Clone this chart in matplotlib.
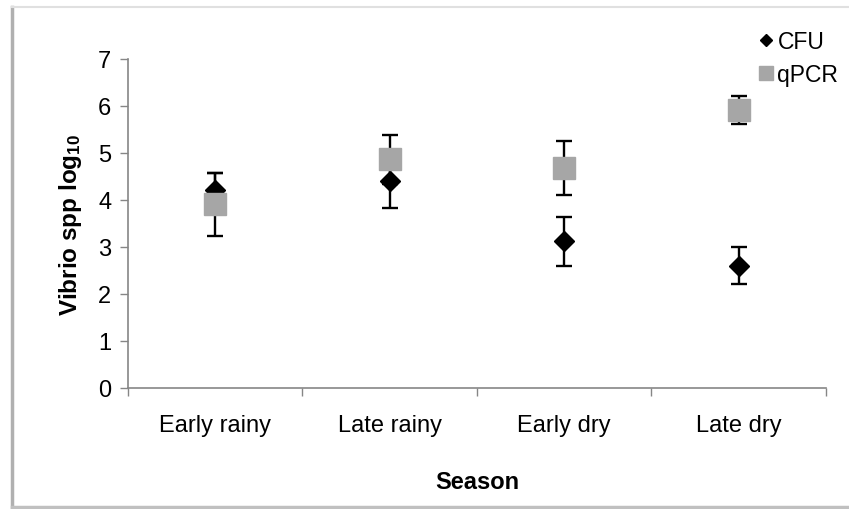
import matplotlib
matplotlib.use("Agg")
import matplotlib.pyplot as plt
from matplotlib.lines import Line2D
import numpy as np

plt.rcParams['font.family'] = ['Liberation Sans', 'DejaVu Sans']
plt.rcParams['mathtext.default'] = 'regular'

seasons = ["Early rainy", "Late rainy", "Early dry", "Late dry"]
cfu = [4.22, 4.41, 3.12, 2.60]
cfu_err = [0.36, 0.58, 0.52, 0.39]
qpcr = [3.91, 4.87, 4.68, 5.91]
qpcr_err = [0.67, 0.52, 0.57, 0.30]

W, H = 849, 510
fig = plt.figure(figsize=(W / 100, H / 100), dpi=100)
ax = fig.add_axes([128 / W, 1 - 389 / H, (826 - 128) / W, (389 - 60) / H])

x = np.arange(len(seasons))
ax.errorbar(x, cfu, yerr=cfu_err, fmt='none', ecolor='black', elinewidth=1.7,
            capsize=5.8, capthick=1.7, zorder=2)
ax.errorbar(x, qpcr, yerr=qpcr_err, fmt='none', ecolor='black', elinewidth=1.7,
            capsize=5.8, capthick=1.7, zorder=2)
ax.plot(x, cfu, linestyle='none', marker='D', markersize=10.2, color='black',
        markeredgecolor='black', zorder=3)
ax.plot(x, qpcr, linestyle='none', marker='s', markersize=15.8, color='#A6A6A6',
        markeredgecolor='#A6A6A6', zorder=4)

ax.set_xlim(-0.5, len(seasons) - 0.5)
ax.set_ylim(0, 7)
ax.set_yticks(range(0, 8))
ax.tick_params(axis='y', labelsize=17, direction='out', length=6, width=1,
               color='#868686', pad=6)
ax.set_xticks(np.arange(-0.5, len(seasons), 1.0))
ax.set_xticklabels([])
ax.set_xticks(x, minor=True)
ax.set_xticklabels(seasons, minor=True)
ax.tick_params(axis='x', which='major', direction='out', length=6, width=1, color='#868686')
ax.tick_params(axis='x', which='minor', length=0, labelsize=17, pad=19)

for s in ['top', 'right']:
    ax.spines[s].set_visible(False)
for s in ['left', 'bottom']:
    ax.spines[s].set_color('#868686')
    ax.spines[s].set_linewidth(1.2)

ax.set_xlabel('Season', fontsize=17, fontweight='bold', labelpad=24)
ax.set_ylabel('Vibrio spp log$_{10}$', fontsize=17.5, fontweight='bold', labelpad=10)

handles = [
    Line2D([], [], linestyle='none', marker='D', markersize=6.5, color='black'),
    Line2D([], [], linestyle='none', marker='s', markersize=10.5, color='#A6A6A6'),
]
leg = ax.legend(handles, ['CFU', 'qPCR'], loc='upper left',
                bbox_to_anchor=(750 / W, 1 - 22 / H), bbox_transform=fig.transFigure,
                frameon=False, fontsize=16.5, handlelength=0.6, handletextpad=0.2,
                labelspacing=0.45, borderaxespad=0)

# figure border with shadow
fig.add_artist(Line2D([12 / W, 12 / W], [1 - 8 / H, 1 - 508 / H], color='#b0b0b0', lw=2.5,
                      transform=fig.transFigure))
fig.add_artist(Line2D([12 / W, 1], [1 - 508 / H, 1 - 508 / H], color='#c0c0c0', lw=2.5,
                      transform=fig.transFigure))
fig.add_artist(Line2D([12 / W, 1], [1 - 8 / H, 1 - 8 / H], color='#e0e0e0', lw=1.5,
                      transform=fig.transFigure))

fig.savefig('out.png', dpi=100)
